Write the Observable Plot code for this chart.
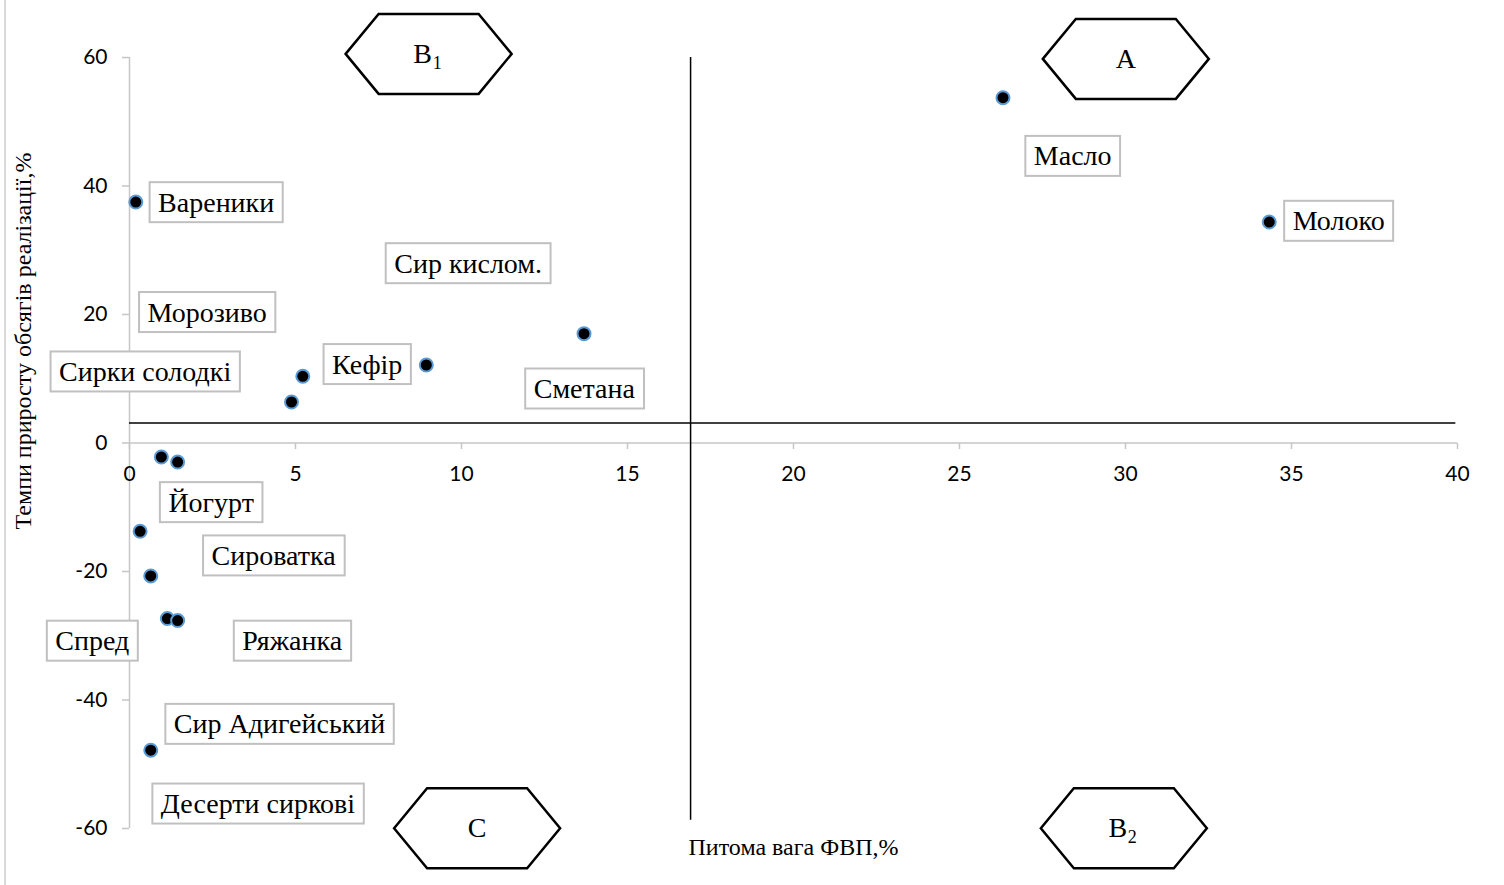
<!DOCTYPE html>
<html><head><meta charset="utf-8">
<script src="https://cdn.jsdelivr.net/npm/d3@7"></script>
<script src="https://cdn.jsdelivr.net/npm/@observablehq/plot@0.6"></script>
<style>
html,body{margin:0;padding:0;background:#fff;}
#wrap{position:relative;width:1504px;height:885px;overflow:hidden;}
#wrap svg{position:absolute;left:0;top:0;}
#edge{position:absolute;left:4px;top:0;width:2px;height:885px;background:#d9d9d9;z-index:2;}
</style></head><body><div id="wrap"><div id="edge"></div></div>
<script>
// Data points (x: Питома вага ФВП, %, y: Темпи приросту обсягів реалізації, %)
const pointX = [0.19, 5.22, 4.88, 8.94, 13.69, 26.31, 34.33, 0.96, 1.45, 0.32, 0.64, 1.14, 1.45, 0.64];
const pointY = [37.5, 10.38, 6.38, 12.14, 17.02, 53.74, 34.39, -2.18, -2.96, -13.74, -20.69, -27.32, -27.63, -47.81];

// Data labels (boxes) and their anchor positions in data units
const labelNames = ["Вареники", "Сир кислом.", "Морозиво", "Сирки солодкі", "Кефір", "Сметана", "Масло", "Молоко",
  "Йогурт", "Сироватка", "Спред", "Ряжанка", "Сир Адигейський", "Десерти сиркові"];
const labelX = [2.61, 10.2, 2.34, 0.47, 7.16, 13.7, 28.41, 36.42, 2.46, 4.34, -1.12, 4.90, 4.52, 3.87];
const labelY = [37.4, 27.9, 20.3, 11.05, 12.2, 8.4, 44.6, 34.5, -9.29, -17.58, -30.85, -30.85, -43.8, -56.2];

// Quadrant markers (hexagons)
const hexLetter = ["B", "A", "C", "B"];
const hexSub = ["1", "", "", "2"];
const hexX = [9.01, 30.01, 10.47, 29.95];
const hexY = [60.56, 59.78, -59.95, -59.95];

// Quadrant dividing lines
const quadX = 16.9, quadVTop = 60, quadVBottom = -58.7;
const quadY = 3.1, quadHRight = 39.95;

// Axes
const xTicks = [0, 5, 10, 15, 20, 25, 30, 35, 40];
const yTicks = [-60, -40, -20, 0, 20, 40, 60];
const xTitle = "Питома вага ФВП,%";
const yTitle = "Темпи приросту обсягів реалізації,%";

const axisGrey = "#c6c6c6";
const serif = "Liberation Serif";
const sans = "Lato";

const points = pointX.map((x, i) => ({x, y: pointY[i]}));
const labels = labelNames.map((name, i) => ({name, x: labelX[i], y: labelY[i]}));
const hexes = hexLetter.map((letter, i) => ({letter, sub: hexSub[i], x: hexX[i], y: hexY[i]}));

const hexSymbol = {
  draw(ctx, size) {
    const r = Math.sqrt(size / Math.PI);
    const w = r * 83 / 40, f = r * 50 / 40, h = r;
    ctx.moveTo(-w, 0); ctx.lineTo(-f, -h); ctx.lineTo(f, -h);
    ctx.lineTo(w, 0); ctx.lineTo(f, h); ctx.lineTo(-f, h); ctx.closePath();
  }
};
const tickDown = {draw(ctx) { ctx.moveTo(0, 0); ctx.lineTo(0, 6); }};

const chart = Plot.plot({
  width: 1504, height: 885,
  marginLeft: 129, marginRight: 47, marginTop: 57, marginBottom: 57,
  x: {domain: [0, 40], axis: null},
  y: {domain: [-60, 60], axis: null},
  style: {fontFamily: sans, fontSize: "21px", background: "white", color: "black"},
  marks: [
    Plot.ruleX([0], {x: d => d, y1: () => -60, y2: () => 60, stroke: axisGrey, strokeWidth: 1.5}),
    Plot.ruleY([0], {y: d => d, x1: () => 0, x2: () => 40, stroke: axisGrey, strokeWidth: 1.5}),
    Plot.axisY(yTicks, {tickSize: 7, tickPadding: 15, stroke: axisGrey, strokeWidth: 1.5, fontSize: 21, fontFamily: sans, label: null, tickFormat: d => String(d)}),
    Plot.dot(xTicks, {x: d => d, y: () => 0, r: 1, symbol: tickDown, fill: "none", stroke: axisGrey, strokeWidth: 1.5}),
    Plot.text(xTicks, {x: d => d, y: () => 0, dy: 31, text: d => String(d), fontSize: 21, fontFamily: sans, fill: "black"}),
    Plot.ruleX([quadX], {x: d => d, y1: () => quadVTop, y2: () => quadVBottom, stroke: "black", strokeWidth: 1.5}),
    Plot.ruleY([quadY], {y: d => d, x1: () => 0, x2: () => quadHRight, stroke: "black", strokeWidth: 1.5}),
    Plot.dot(hexes, {x: "x", y: "y", r: 40, symbol: hexSymbol, fill: "white", stroke: "black", strokeWidth: 2.5}),
    Plot.text(hexes.filter(d => !d.sub), {x: "x", y: "y", text: "letter", fontFamily: serif, fontSize: 28, fill: "black"}),
    Plot.text(hexes.filter(d => d.sub), {x: "x", y: "y", text: "letter", dx: -6, fontFamily: serif, fontSize: 28, fill: "black"}),
    Plot.text(hexes.filter(d => d.sub), {x: "x", y: "y", text: "sub", dx: 4, dy: 9, textAnchor: "start", fontFamily: serif, fontSize: 18, fill: "black"}),
    Plot.dot(points, {x: "x", y: "y", r: 6.5, fill: "black", stroke: "#5b9bd5", strokeWidth: 2}),
    Plot.text(labels, {x: "x", y: "y", text: "name", fontFamily: serif, fontSize: 28, fill: "black"}),
    Plot.text([yTitle], {frameAnchor: "left", textAnchor: "middle", lineAnchor: "middle", dx: -106, dy: -102, rotate: -90, fontFamily: serif, fontSize: 24, fill: "black"}),
    Plot.text([xTitle], {frameAnchor: "bottom", textAnchor: "middle", lineAnchor: "middle", dy: 19, fontFamily: serif, fontSize: 24, fill: "black"})
  ]
});

document.getElementById("wrap").appendChild(chart);

// Draw bordered boxes behind the data label texts
const nameSet = new Set(labelNames);
chart.querySelectorAll("text").forEach(t => {
  if (!nameSet.has(t.textContent)) return;
  const b = t.getBBox();
  const cx = b.x + b.width / 2, cy = b.y + b.height / 2;
  const w = b.width + 17, h = 40;
  const rect = document.createElementNS("http://www.w3.org/2000/svg", "rect");
  rect.setAttribute("x", cx - w / 2);
  rect.setAttribute("y", cy - h / 2);
  rect.setAttribute("width", w);
  rect.setAttribute("height", h);
  rect.setAttribute("fill", "white");
  rect.setAttribute("stroke", "#c0c0c0");
  rect.setAttribute("stroke-width", 2);
  if (t.getAttribute("transform")) rect.setAttribute("transform", t.getAttribute("transform"));
  t.parentNode.insertBefore(rect, t);
});
</script>
</body></html>
